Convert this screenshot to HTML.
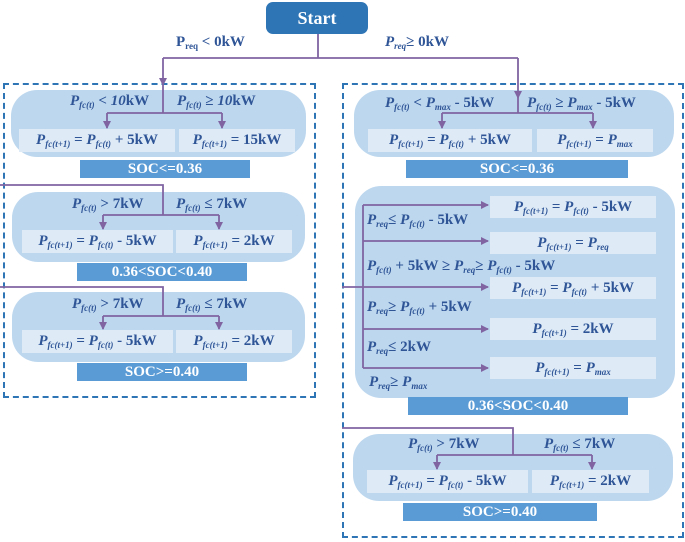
<!DOCTYPE html>
<html><head><meta charset="utf-8">
<style>
body{margin:0;background:#fff;}
#c{position:relative;width:685px;height:542px;overflow:hidden;font-family:"Liberation Serif",serif;font-weight:bold;color:#2f5597;}
.a{position:absolute;}
.g{position:absolute;background:#bdd7ee;border-radius:26px;}
.b{position:absolute;background:#deebf7;display:flex;align-items:center;justify-content:center;font-size:15px;white-space:nowrap;}
.s{position:absolute;background:#5b9bd5;color:#fff;display:flex;align-items:center;justify-content:center;font-size:15px;}
.t{position:absolute;font-size:15px;white-space:nowrap;line-height:18px;}
i{font-style:italic;}
sub{font-size:9px;vertical-align:-3px;line-height:0;}
svg{position:absolute;left:0;top:0;}
</style></head><body><div id="c">
<div class="a" style="left:266px;top:2px;width:102px;height:32px;background:#2e75b6;border-radius:7px;color:#fff;font-size:18px;display:flex;align-items:center;justify-content:center;">Start</div>

<div class="a" style="left:3px;top:83px;width:309px;height:311px;border:2px dashed #2e75b6;"></div>
<div class="a" style="left:342px;top:83px;width:338px;height:451px;border:2px dashed #2e75b6;"></div>

<!-- left groups -->
<div class="g" style="left:11px;top:90px;width:295px;height:67px;"></div>
<div class="b" style="left:19px;top:129px;width:156px;height:23px;"><span><i>P<sub>fc(t+1)</sub></i> = <i>P<sub>fc(t)</sub></i> + 5kW</span></div>
<div class="b" style="left:179px;top:129px;width:116px;height:23px;"><span><i>P<sub>fc(t+1)</sub></i> = 15kW</span></div>
<div class="s" style="left:80px;top:160px;width:170px;height:18px;">SOC&lt;=0.36</div>
<div class="t" style="left:70px;top:92px;"><i>P<sub>fc(t)</sub></i> &lt; <i>10</i>kW</div>
<div class="t" style="left:177px;top:92px;"><i>P<sub>fc(t)</sub></i> ≥ <i>10</i>kW</div>

<div class="g" style="left:12px;top:192px;width:293px;height:70px;"></div>
<div class="b" style="left:22px;top:230px;width:151px;height:23px;"><span><i>P<sub>fc(t+1)</sub></i> = <i>P<sub>fc(t)</sub></i> - 5kW</span></div>
<div class="b" style="left:176px;top:230px;width:116px;height:23px;"><span><i>P<sub>fc(t+1)</sub></i> = 2kW</span></div>
<div class="s" style="left:77px;top:263px;width:170px;height:18px;">0.36&lt;SOC&lt;0.40</div>
<div class="t" style="left:72px;top:195px;"><i>P<sub>fc(t)</sub></i> &gt; 7kW</div>
<div class="t" style="left:176px;top:195px;"><i>P<sub>fc(t)</sub></i> ≤ 7kW</div>

<div class="g" style="left:12px;top:292px;width:293px;height:70px;"></div>
<div class="b" style="left:22px;top:330px;width:151px;height:23px;"><span><i>P<sub>fc(t+1)</sub></i> = <i>P<sub>fc(t)</sub></i> - 5kW</span></div>
<div class="b" style="left:176px;top:330px;width:116px;height:23px;"><span><i>P<sub>fc(t+1)</sub></i> = 2kW</span></div>
<div class="s" style="left:77px;top:363px;width:170px;height:18px;">SOC&gt;=0.40</div>
<div class="t" style="left:72px;top:295px;"><i>P<sub>fc(t)</sub></i> &gt; 7kW</div>
<div class="t" style="left:176px;top:295px;"><i>P<sub>fc(t)</sub></i> ≤ 7kW</div>

<!-- right groups -->
<div class="g" style="left:354px;top:90px;width:320px;height:67px;"></div>
<div class="b" style="left:368px;top:129px;width:164px;height:23px;"><span><i>P<sub>fc(t+1)</sub></i> = <i>P<sub>fc(t)</sub></i> + 5kW</span></div>
<div class="b" style="left:537px;top:129px;width:116px;height:23px;"><span><i>P<sub>fc(t+1)</sub></i> = <i>P<sub>max</sub></i></span></div>
<div class="s" style="left:406px;top:160px;width:222px;height:18px;">SOC&lt;=0.36</div>
<div class="t" style="left:385px;top:94px;"><i>P<sub>fc(t)</sub></i> &lt; <i>P<sub>max</sub></i> - 5kW</div>
<div class="t" style="left:527px;top:94px;"><i>P<sub>fc(t)</sub></i> ≥ <i>P<sub>max</sub></i> - 5kW</div>

<div class="g" style="left:355px;top:186px;width:320px;height:212px;"></div>
<div class="b" style="left:490px;top:196px;width:166px;height:22px;"><span><i>P<sub>fc(t+1)</sub></i> = <i>P<sub>fc(t)</sub></i> - 5kW</span></div>
<div class="b" style="left:490px;top:232px;width:166px;height:22px;"><span><i>P<sub>fc(t+1)</sub></i> = <i>P<sub>req</sub></i></span></div>
<div class="b" style="left:490px;top:277px;width:166px;height:22px;"><span><i>P<sub>fc(t+1)</sub></i> = <i>P<sub>fc(t)</sub></i> + 5kW</span></div>
<div class="b" style="left:490px;top:318px;width:166px;height:22px;"><span><i>P<sub>fc(t+1)</sub></i> = 2kW</span></div>
<div class="b" style="left:490px;top:357px;width:166px;height:22px;"><span><i>P<sub>fc(t+1)</sub></i> = <i>P<sub>max</sub></i></span></div>
<div class="t" style="left:367px;top:211px;"><i>P<sub>req</sub></i>≤ <i>P<sub>fc(t)</sub></i> - 5kW</div>
<div class="t" style="left:367px;top:257px;"><i>P<sub>fc(t)</sub></i> + 5kW ≥ <i>P<sub>req</sub></i>≥ <i>P<sub>fc(t)</sub></i> - 5kW</div>
<div class="t" style="left:367px;top:298px;"><i>P<sub>req</sub></i>≥ <i>P<sub>fc(t)</sub></i> + 5kW</div>
<div class="t" style="left:367px;top:338px;"><i>P<sub>req</sub></i>≤ 2kW</div>
<div class="t" style="left:369px;top:373px;"><i>P<sub>req</sub></i>≥ <i>P<sub>max</sub></i></div>
<div class="s" style="left:408px;top:397px;width:220px;height:18px;">0.36&lt;SOC&lt;0.40</div>

<div class="g" style="left:353px;top:434px;width:320px;height:67px;"></div>
<div class="b" style="left:367px;top:470px;width:161px;height:23px;"><span><i>P<sub>fc(t+1)</sub></i> = <i>P<sub>fc(t)</sub></i> - 5kW</span></div>
<div class="b" style="left:532px;top:470px;width:117px;height:23px;"><span><i>P<sub>fc(t+1)</sub></i> = 2kW</span></div>
<div class="s" style="left:403px;top:503px;width:194px;height:18px;">SOC&gt;=0.40</div>
<div class="t" style="left:408px;top:435px;"><i>P<sub>fc(t)</sub></i> &gt; 7kW</div>
<div class="t" style="left:544px;top:435px;"><i>P<sub>fc(t)</sub></i> ≤ 7kW</div>

<div class="t" style="left:176px;top:33px;">P<sub>req</sub> &lt; 0kW</div>
<div class="t" style="left:385px;top:33px;"><i>P<sub>req</sub></i>≥ 0kW</div>

<svg width="685" height="542" viewBox="0 0 685 542">
<defs><marker id="m" markerWidth="8" markerHeight="8" refX="7" refY="4" orient="auto" markerUnits="userSpaceOnUse"><path d="M0,0 L8,4 L0,8 z" fill="#8064a2"/></marker></defs>
<g stroke="#8064a2" stroke-width="1.8" fill="none">
<path d="M318,34 V58 M163,58 H518"/>
<path d="M163,58 V85" marker-end="url(#m)"/>
<path d="M518,58 V98" marker-end="url(#m)"/>
<path d="M163,85 V113 M107,113 H222"/>
<path d="M107,113 V128" marker-end="url(#m)"/><path d="M222,113 V128" marker-end="url(#m)"/>
<path d="M0,185 H163 V215 M103,215 H219"/>
<path d="M103,215 V229" marker-end="url(#m)"/><path d="M219,215 V229" marker-end="url(#m)"/>
<path d="M0,287 H163 V316 M103,316 H219"/>
<path d="M103,316 V329" marker-end="url(#m)"/><path d="M219,316 V329" marker-end="url(#m)"/>
<path d="M518,98 V113 M442,113 H593"/>
<path d="M442,113 V128" marker-end="url(#m)"/><path d="M593,113 V128" marker-end="url(#m)"/>
<path d="M363,205 V368"/>
<path d="M363,205 H488" marker-end="url(#m)"/>
<path d="M363,241 H488" marker-end="url(#m)"/>
<path d="M342,287 H488" marker-end="url(#m)"/>
<path d="M363,329 H488" marker-end="url(#m)"/>
<path d="M363,368 H488" marker-end="url(#m)"/>
<path d="M342,428 H513 V455 M437,455 H592"/>
<path d="M437,455 V469" marker-end="url(#m)"/><path d="M592,455 V469" marker-end="url(#m)"/>
</g></svg>
</div></body></html>
